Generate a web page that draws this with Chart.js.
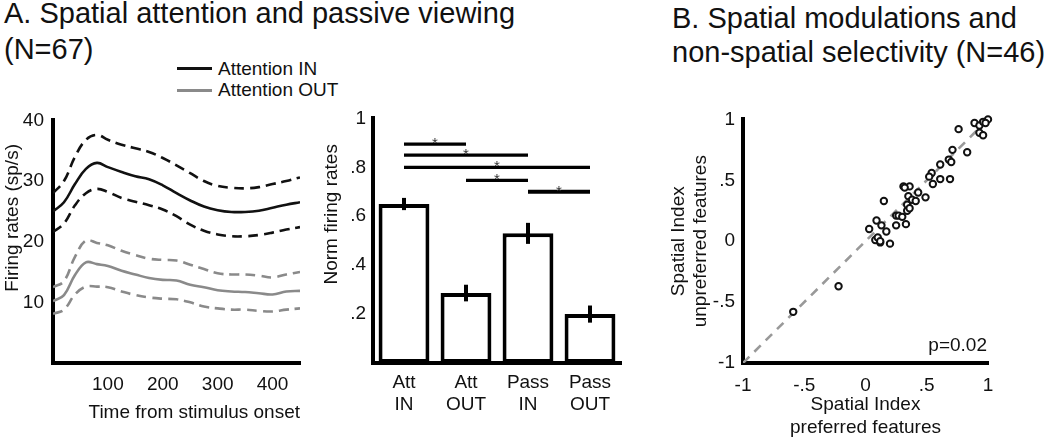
<!DOCTYPE html>
<html>
<head>
<meta charset="utf-8">
<script src="https://cdn.jsdelivr.net/npm/chart.js@4.4.1/dist/chart.umd.min.js"></script>
<style>
  body { margin:0; background:#fff; width:1050px; height:440px; overflow:hidden; position:relative;
         font-family:"Liberation Sans", Arial, sans-serif; color:#111; }
  canvas { position:absolute; }
  .title { position:absolute; font-size:29px; white-space:nowrap; color:#111; }
  .leg { position:absolute; left:218px; font-size:19px; line-height:22px; white-space:nowrap; color:#111; }
  .sw { position:absolute; left:177px; width:35px; height:3px; }
</style>
</head>
<body>
<div class="title" style="left:4px;top:-5px;line-height:36px;">A. Spatial attention and passive viewing<br>(N=67)</div>
<div class="title" style="left:672px;top:1px;line-height:34px;">B. Spatial modulations and<br>non-spatial selectivity (N=46)</div>
<div class="sw" style="top:67px;background:#111;"></div>
<div class="leg" style="top:58px;">Attention IN</div>
<div class="sw" style="top:89px;background:#8a8a8a;"></div>
<div class="leg" style="top:79px;">Attention OUT</div>

<canvas id="c1" width="310" height="340" style="left:0;top:100px;"></canvas>
<canvas id="c2" width="310" height="340" style="left:320px;top:100px;"></canvas>
<canvas id="c3" width="410" height="340" style="left:640px;top:100px;"></canvas>

<script>
// ---------- Panel A (left): firing rates over time ----------
const timeMs      = [0, 20, 40, 60, 80, 100, 125, 150, 175, 200, 225, 250, 275, 300, 325, 350, 375, 400, 425, 450];
const attInMean   = [25.0, 26.5, 29.5, 32.0, 33.0, 32.3, 31.5, 30.8, 30.3, 29.3, 28.0, 26.8, 25.8, 25.2, 24.9, 24.9, 25.1, 25.6, 26.1, 26.5];
const attInUpper  = [28.0, 30.0, 34.0, 36.8, 37.6, 36.8, 36.0, 35.4, 34.8, 33.8, 32.6, 31.3, 30.0, 29.2, 28.9, 28.8, 29.0, 29.5, 30.0, 30.6];
const attInLower  = [21.6, 23.0, 26.0, 28.0, 28.7, 28.2, 27.2, 26.6, 26.0, 25.3, 24.2, 22.8, 21.8, 21.2, 20.9, 20.9, 21.1, 21.5, 22.0, 22.4];
const attOutMean  = [10.2, 11.2, 14.5, 16.6, 16.3, 16.0, 15.2, 14.6, 14.0, 13.7, 13.6, 12.9, 12.5, 12.0, 11.8, 11.7, 11.5, 11.3, 11.8, 11.9];
const attOutUpper = [12.5, 13.5, 17.5, 20.2, 19.8, 19.4, 18.5, 17.8, 17.2, 17.0, 16.9, 16.2, 15.5, 14.8, 14.6, 14.6, 14.4, 14.1, 14.6, 15.0];
const attOutLower = [8.1, 8.8, 11.3, 12.6, 12.6, 12.5, 11.8, 11.2, 10.8, 10.6, 10.5, 10.0, 9.3, 9.0, 8.8, 8.8, 8.6, 8.5, 8.8, 9.0];
const timeTicks   = [100, 200, 300, 400];
const rateTicks   = [10, 20, 30, 40];

// ---------- Panel A (right): normalized firing rates ----------
const barCategories = [['Att', 'IN'], ['Att', 'OUT'], ['Pass', 'IN'], ['Pass', 'OUT']];
const barValues     = [0.65, 0.286, 0.53, 0.20];
const barErrors     = [0.025, 0.034, 0.043, 0.035];
const normTicks     = [0.2, 0.4, 0.6, 0.8, 1];
const normTickText  = ['.2', '.4', '.6', '.8', '1'];
const sigPairs      = [[0, 1], [0, 2], [0, 3], [1, 2], [2, 3]];
const sigLevels     = [0.895, 0.85, 0.80, 0.747, 0.70];

// ---------- Panel B: spatial index scatter ----------
const prefIndex   = [-0.59, -0.22, 0.03, 0.09, 0.08, 0.10, 0.12, 0.13, 0.17, 0.20, 0.15, 0.25, 0.25, 0.27, 0.30, 0.31,
                     0.33, 0.34, 0.34, 0.35, 0.36, 0.38, 0.41, 0.43, 0.49, 0.54, 0.55, 0.61, 0.69, 0.61, 0.68, 0.70,
                     0.71, 0.83, 0.76, 0.89, 0.93, 0.96, 1.00, 0.93, 0.96, 0.98, 0.32, 0.52, 0.36, 0.12];
const unprefIndex = [-0.58, -0.37, 0.10, 0.17, 0.01, 0.03, -0.01, 0.13, 0.08, -0.02, 0.33, 0.13, 0.21, 0.21, 0.20, 0.45,
                     0.14, 0.25, 0.30, 0.37, 0.45, 0.34, 0.33, 0.40, 0.36, 0.56, 0.47, 0.51, 0.51, 0.63, 0.67, 0.65,
                     0.75, 0.73, 0.92, 0.97, 0.95, 0.98, 1.00, 0.89, 0.87, 0.97, 0.44, 0.53, 0.27, 0.00];
const unityX      = [-1, 1];
const unityY      = [-1, 1];
const spatialTicks    = [-1, -0.5, 0, 0.5, 1];
const spatialTickText = ['-1', '-.5', '0', '.5', '1'];
const pValueText  = 'p=0.02';

// ---------- common styling ----------
const FONT = { family: '"Liberation Sans", Arial, sans-serif', size: 19 };
const INK = '#111';
const GREY = '#8a8a8a';
Chart.defaults.font.family = FONT.family;
Chart.defaults.color = INK;
Chart.defaults.animation = false;

function pts(xs, ys) { return xs.map((x, i) => ({ x: x, y: ys[i] })); }
function fixTicks(values) { return function (scale) { scale.ticks = values.map(v => ({ value: v })); }; }

// ---------- Chart 1: line ----------
function lineDs(label, ys, color, dashed) {
  return { label: label, data: pts(timeMs, ys), borderColor: color, borderWidth: 2.6,
           borderDash: dashed ? [10, 6] : [], pointRadius: 0, tension: 0.4, fill: false };
}
new Chart(document.getElementById('c1'), {
  type: 'line',
  data: { datasets: [
    lineDs('Attention IN', attInMean, INK, false),
    lineDs('Attention IN upper', attInUpper, INK, true),
    lineDs('Attention IN lower', attInLower, INK, true),
    lineDs('Attention OUT', attOutMean, GREY, false),
    lineDs('Attention OUT upper', attOutUpper, GREY, true),
    lineDs('Attention OUT lower', attOutLower, GREY, true)
  ]},
  options: {
    responsive: false, animation: false,
    layout: { padding: { top: 15, right: 10, left: 0, bottom: 0 } },
    plugins: { legend: { display: false }, tooltip: { enabled: false } },
    scales: {
      x: { type: 'linear', min: 0, max: 450,
           afterBuildTicks: fixTicks(timeTicks),
           afterFit: s => { s.height = 77; },
           grid: { display: false, drawTicks: false },
           border: { display: true, color: '#000', width: 4 },
           ticks: { font: FONT, color: INK, padding: 10, maxRotation: 0 },
           title: { display: true, text: 'Time from stimulus onset', align: 'end', font: FONT, color: INK,
                    padding: { top: 0, bottom: 16 } } },
      y: { type: 'linear', min: 0, max: 40,
           afterBuildTicks: fixTicks(rateTicks),
           afterFit: s => { s.width = 53; },
           grid: { display: false, drawTicks: false },
           border: { display: true, color: '#000', width: 4 },
           ticks: { font: FONT, color: INK, padding: 9 },
           title: { display: true, text: '         Firing rates (sp/s)', font: FONT, color: INK,
                    padding: { top: 1, bottom: 0 } } }
    }
  }
});

// ---------- Chart 2: bars ----------
const barExtras = {
  id: 'barExtras',
  afterDatasetsDraw(chart) {
    const ctx = chart.ctx, xs = chart.scales.x, ys = chart.scales.y;
    ctx.save();
    ctx.strokeStyle = '#000';
    ctx.lineCap = 'butt';
    // error bars
    ctx.lineWidth = 4;
    barValues.forEach((v, i) => {
      const x = xs.getPixelForValue(i);
      ctx.beginPath();
      ctx.moveTo(x, ys.getPixelForValue(v - barErrors[i]));
      ctx.lineTo(x, ys.getPixelForValue(v + barErrors[i]));
      ctx.stroke();
    });
    // significance lines and stars
    ctx.font = '15px ' + FONT.family;
    ctx.fillStyle = '#333';
    ctx.textAlign = 'center';
    ctx.textBaseline = 'alphabetic';
    sigPairs.forEach((p, k) => {
      const x0 = xs.getPixelForValue(p[0]), x1 = xs.getPixelForValue(p[1]);
      const y = ys.getPixelForValue(sigLevels[k]);
      ctx.lineWidth = k === sigPairs.length - 1 ? 4 : 3.2;
      ctx.beginPath(); ctx.moveTo(x0, y); ctx.lineTo(x1, y); ctx.stroke();
      ctx.fillText('*', (x0 + x1) / 2, y + 4);
    });
    ctx.restore();
  }
};
new Chart(document.getElementById('c2'), {
  type: 'bar',
  data: { labels: barCategories, datasets: [{
    label: 'Norm firing rates', data: barValues, backgroundColor: '#fff', borderColor: '#000',
    borderWidth: 4, borderSkipped: false, barPercentage: 0.82, categoryPercentage: 1 }] },
  options: {
    responsive: false, animation: false,
    layout: { padding: { top: 15, right: 9, left: 0, bottom: 0 } },
    plugins: { legend: { display: false }, tooltip: { enabled: false } },
    scales: {
      x: { afterFit: s => { s.height = 77; },
           grid: { display: false, drawTicks: false },
           border: { display: true, color: '#000', width: 4 },
           ticks: { font: FONT, color: INK, padding: 8, maxRotation: 0, autoSkip: false } },
      y: { type: 'linear', min: 0, max: 1,
           afterBuildTicks: fixTicks(normTicks),
           afterFit: s => { s.width = 53; },
           grid: { display: false, drawTicks: false },
           border: { display: true, color: '#000', width: 4 },
           ticks: { font: FONT, color: INK, padding: 7,
                    callback: v => normTickText[normTicks.indexOf(v)] },
           title: { display: true, text: '          Norm firing rates', font: FONT, color: INK,
                    padding: { top: 0, bottom: 0 } } }
    }
  },
  plugins: [barExtras]
});

// ---------- Chart 3: scatter ----------
const pLabel = {
  id: 'pLabel',
  afterDraw(chart) {
    const ctx = chart.ctx, a = chart.chartArea;
    ctx.save();
    ctx.font = '19px ' + FONT.family;
    ctx.fillStyle = INK;
    ctx.textAlign = 'right';
    ctx.textBaseline = 'middle';
    ctx.fillText(pValueText, a.right - 1, a.bottom - 17);
    ctx.restore();
  }
};
new Chart(document.getElementById('c3'), {
  type: 'scatter',
  data: { datasets: [
    { label: 'Neurons', data: pts(prefIndex, unprefIndex), order: 0, clip: false,
      pointRadius: 3.2, pointBorderWidth: 2, borderColor: '#111', backgroundColor: '#fff' },
    { label: 'Unity', data: pts(unityX, unityY), order: 1, showLine: true, pointRadius: 0,
      borderColor: '#999', borderWidth: 2.6, borderDash: [9, 7] }
  ]},
  options: {
    responsive: false, animation: false,
    layout: { padding: { top: 17, right: 62, left: 0, bottom: 0 } },
    plugins: { legend: { display: false }, tooltip: { enabled: false } },
    scales: {
      x: { type: 'linear', min: -1, max: 1,
           afterBuildTicks: fixTicks(spatialTicks),
           afterFit: s => { s.height = 77; },
           grid: { display: false, drawTicks: false },
           border: { display: true, color: '#000', width: 4 },
           ticks: { font: FONT, color: INK, padding: 11, maxRotation: 0,
                    callback: v => spatialTickText[spatialTicks.indexOf(v)] },
           title: { display: true, text: ['Spatial Index', 'preferred features'], font: FONT, color: INK,
                    padding: { top: 0, bottom: 1 } } },
      y: { type: 'linear', min: -1, max: 1,
           afterBuildTicks: fixTicks(spatialTicks),
           afterFit: s => { s.width = 103; },
           grid: { display: false, drawTicks: false },
           border: { display: true, color: '#000', width: 4 },
           ticks: { font: FONT, color: INK, padding: 8,
                    callback: v => spatialTickText[spatialTicks.indexOf(v)] },
           title: { display: true, text: ['Spatial Index', 'unpreferred features'], font: FONT, color: INK,
                    padding: { top: 27, bottom: 0 } } }
    }
  },
  plugins: [pLabel]
});
</script>
</body>
</html>
